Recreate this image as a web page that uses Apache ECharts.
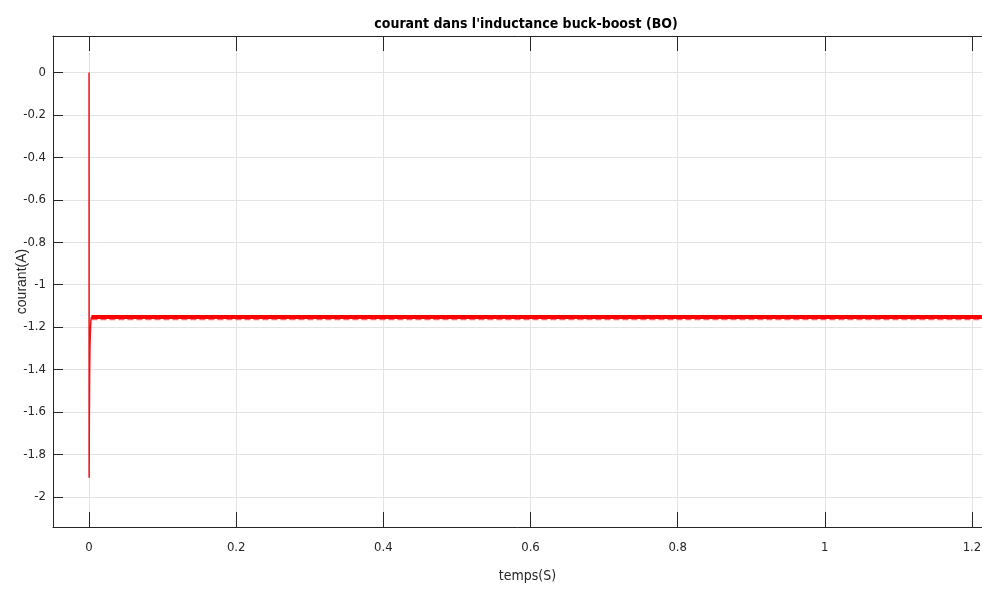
<!DOCTYPE html>
<html><head><meta charset="utf-8">
<script src="https://cdn.jsdelivr.net/npm/echarts@6/dist/echarts.min.js"></script>
<style>html,body{margin:0;padding:0;background:#fff}#c{width:982px;height:589px}</style>
</head><body><div id="c"></div>
<script>
// transient (spike) samples
const spikeTime = [0, 0.0001, 0.0004, 0.0008, 0.0012, 0.0018, 0.0025, 0.0032];
const spikeCurrent = [0, -1.91, -1.62, -1.42, -1.30, -1.22, -1.17, -1.152];
// steady-state band (upper envelope and lower ripple edge)
const steadyTime = [0.0032, 1.25];
const steadyUpper = [-1.152, -1.152];
const steadyLower = [-1.163, -1.163];
const xTicks = [0, 0.2, 0.4, 0.6, 0.8, 1, 1.2];
const yTicks = [0, -0.2, -0.4, -0.6, -0.8, -1, -1.2, -1.4, -1.6, -1.8, -2];

const FONT = '"Liberation Sans Narrow","DejaVu Sans Condensed","Liberation Sans",Arial,sans-serif';
const zip = (a, b) => a.map((v, i) => [v, b[i]]);

const chart = echarts.init(document.getElementById('c'), null, {renderer: 'canvas'});
const axisCol = '#262626';
const gridCol = '#e3e3e3';
const xMin = -0.049, xMax = 1.2408;
const yMin = -2.142, yMax = 0.172;

chart.setOption({
  animation: false,
  backgroundColor: '#fff',
  title: {
    text: "courant dans l'inductance buck-boost (BO)",
    left: 521, top: 12, textAlign: 'center',
    textStyle: {fontFamily: FONT, fontWeight: 'bold', fontSize: 14, color: '#000'}
  },
  grid: {left: 53, top: 36, right: -20, bottom: 62, containLabel: false, outerBoundsMode: 'none'},
  xAxis: [{
    type: 'value', min: xMin, max: xMax, position: 'bottom',
    name: 'temps(S)', nameLocation: 'middle', nameGap: 42, nameMoveOverlap: false,
    nameTextStyle: {fontFamily: FONT, fontSize: 14, color: '#262626'},
    axisLine: {show: true, onZero: false, lineStyle: {color: axisCol, width: 1}},
    axisTick: {show: true, inside: true, length: 15, customValues: xTicks, lineStyle: {color: axisCol}},
    axisLabel: {show: true, customValues: xTicks, margin: 14, fontFamily: FONT, fontSize: 13, color: '#262626',
      formatter: v => String(Math.round(v * 10) / 10)},
    splitLine: {show: true, lineStyle: {color: gridCol, width: 1}}
  }, {
    type: 'value', min: xMin, max: xMax, position: 'top',
    axisLine: {show: true, onZero: false, lineStyle: {color: axisCol, width: 1}},
    axisTick: {show: true, inside: true, length: 15, customValues: xTicks, lineStyle: {color: axisCol}},
    axisLabel: {show: false},
    splitLine: {show: false}
  }],
  yAxis: [{
    type: 'value', min: yMin, max: yMax, position: 'left',
    name: 'courant(A)', nameLocation: 'middle', nameGap: 24, nameMoveOverlap: false,
    nameTextStyle: {fontFamily: '"Liberation Sans",Arial,sans-serif', fontSize: 14, color: '#262626'},
    axisLine: {show: true, onZero: false, lineStyle: {color: axisCol, width: 1}},
    axisTick: {show: true, inside: true, length: 10, customValues: yTicks, lineStyle: {color: axisCol}},
    axisLabel: {show: true, customValues: yTicks, margin: 7, fontFamily: FONT, fontSize: 13, color: '#262626',
      formatter: v => String(Math.round(v * 10) / 10)},
    splitLine: {show: true, lineStyle: {color: gridCol, width: 1}}
  }],
  series: [{
    type: 'line', data: zip(steadyTime, steadyLower), showSymbol: false, silent: true,
    lineStyle: {color: '#ff6060', width: 2, type: [6, 3]}, z: 2
  }, {
    type: 'line', data: zip(steadyTime, steadyUpper), showSymbol: false, silent: true,
    lineStyle: {color: '#ff0000', width: 4}, z: 3
  }, {
    type: 'line', data: zip(spikeTime, spikeCurrent), showSymbol: false, silent: true,
    lineStyle: {color: '#e8141c', width: 1.5}, z: 4
  }]
});
</script></body></html>
